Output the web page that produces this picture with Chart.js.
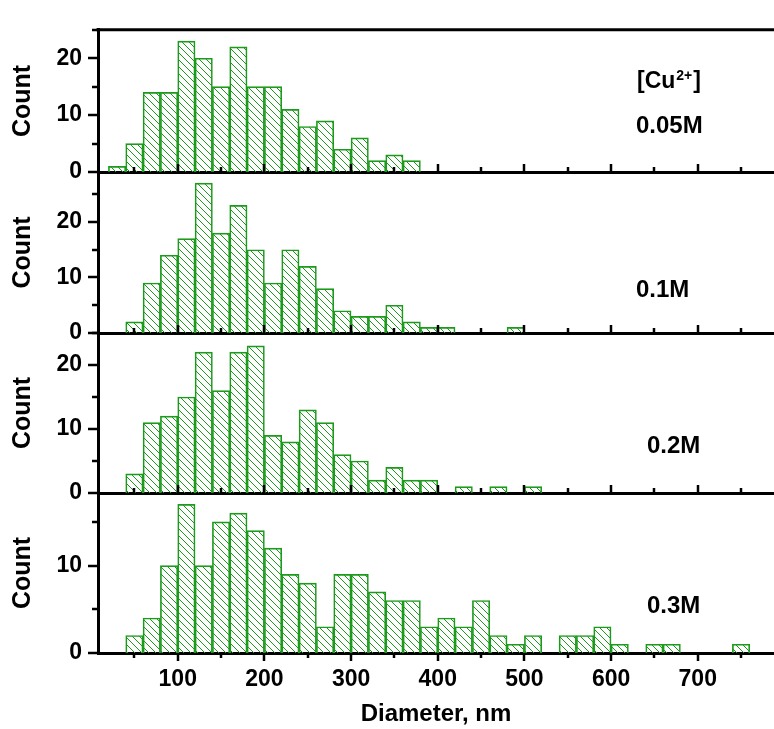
<!DOCTYPE html>
<html>
<head>
<meta charset="utf-8">
<script src="https://cdn.jsdelivr.net/npm/chart.js@4.4.1/dist/chart.umd.min.js"></script>
<style>
  html, body { margin: 0; padding: 0; background: #fff; }
  #wrap { position: relative; width: 774px; height: 729px; }
  #wrap canvas { position: absolute; left: 0; top: 0; }
</style>
</head>
<body>
<div id="wrap">
  <canvas id="p1" width="774" height="729"></canvas>
  <canvas id="p2" width="774" height="729"></canvas>
  <canvas id="p3" width="774" height="729"></canvas>
  <canvas id="p4" width="774" height="729"></canvas>
</div>
<script>
// Size distributions of particle diameter, 20 nm bins (left edge of each bin)
const binWidth = 20;
const binStarts = [20, 40, 60, 80, 100, 120, 140, 160, 180, 200, 220, 240, 260, 280, 300, 320, 340, 360, 380,
                   400, 420, 440, 460, 480, 500, 520, 540, 560, 580, 600, 620, 640, 660, 680, 700, 720, 740];

const counts005 = [1, 5, 14, 14, 23, 20, 15, 22, 15, 15, 11, 8, 9, 4, 6, 2, 3, 2, 0,
                   0, 0, 0, 0, 0, 0, 0, 0, 0, 0, 0, 0, 0, 0, 0, 0, 0, 0];
const counts01  = [0, 2, 9, 14, 17, 27, 18, 23, 15, 9, 15, 12, 8, 4, 3, 3, 5, 2, 1,
                   1, 0, 0, 0, 1, 0, 0, 0, 0, 0, 0, 0, 0, 0, 0, 0, 0, 0];
const counts02  = [0, 3, 11, 12, 15, 22, 16, 22, 23, 9, 8, 13, 11, 6, 5, 2, 4, 2, 2,
                   0, 1, 0, 1, 0, 1, 0, 0, 0, 0, 0, 0, 0, 0, 0, 0, 0, 0];
const counts03  = [0, 2, 4, 10, 17, 10, 15, 16, 14, 12, 9, 8, 3, 9, 9, 7, 6, 6, 3,
                   4, 3, 6, 2, 1, 2, 0, 2, 2, 3, 1, 0, 1, 1, 0, 0, 0, 1];

const concentrations = ['0.05M', '0.1M', '0.2M', '0.3M'];
const yMaxes = [25, 29, 25, 18.3];
const xMajorTicks = [100, 200, 300, 400, 500, 600, 700];
const xMinorTicks = [50, 150, 250, 350, 450, 550, 650, 750];
const xMin = 8, xMax = 788;

// page layout of the four stacked panels
const panelTops    = [13, 172, 333, 493];
const panelBottoms = [172, 333, 493, 653];
const labelPos = [[636, 133], [636, 297], [647, 453], [647, 613]];

const GREEN = '#1b9a1b';
const FONT = "'Liberation Sans', Arial, sans-serif";

Chart.defaults.font.family = FONT;
Chart.defaults.font.weight = 'bold';
Chart.defaults.color = '#000';

function makeHatch(ctx) {
    const tile = document.createElement('canvas');
    tile.width = tile.height = 7;
    const g = tile.getContext('2d');
    g.strokeStyle = GREEN;
    g.lineWidth = 1;
    g.beginPath();
    g.moveTo(0, 0); g.lineTo(7, 7);
    g.moveTo(-1, 6); g.lineTo(1, 8);
    g.moveTo(6, -1); g.lineTo(8, 1);
    g.stroke();
    return ctx.createPattern(tile, 'repeat');
}

// inward/outward tick marks, top frame line and the panel caption
const panelDecor = {
    id: 'panelDecor',
    afterDraw(chart, args, opts) {
        const { ctx, chartArea, scales: { x, y } } = chart;
        ctx.save();
        ctx.strokeStyle = '#000';
        ctx.lineWidth = 2.5;
        const dir = opts.outward ? 1 : -1;
        const tick = (v, len) => {
            const px = Math.round(x.getPixelForValue(v));
            ctx.beginPath();
            ctx.moveTo(px, chartArea.bottom);
            ctx.lineTo(px, chartArea.bottom + dir * len);
            ctx.stroke();
        };
        xMajorTicks.forEach(v => tick(v, 8));
        xMinorTicks.forEach(v => tick(v, 5));

        for (let v = 0; v <= y.max; v += 5) {
            const py = Math.round(y.getPixelForValue(v));
            const len = v % 10 === 0 ? 10 : 6;
            ctx.beginPath();
            ctx.moveTo(chartArea.left, py);
            ctx.lineTo(chartArea.left - len, py);
            ctx.stroke();
        }

        if (opts.topFrame) {
            ctx.lineWidth = 3;
            ctx.beginPath();
            ctx.moveTo(chartArea.left - 1.5, chartArea.top);
            ctx.lineTo(chartArea.right, chartArea.top);
            ctx.stroke();
        }

        ctx.fillStyle = '#000';
        ctx.textBaseline = 'alphabetic';
        ctx.textAlign = 'left';
        if (opts.header) {
            ctx.font = `bold 23px ${FONT}`;
            let hx = 637;
            ctx.fillText('[Cu', hx, 88);
            hx += ctx.measureText('[Cu').width + 1;
            ctx.font = `bold 14px ${FONT}`;
            ctx.fillText('2+', hx, 80);
            hx += ctx.measureText('2+').width + 1;
            ctx.font = `bold 23px ${FONT}`;
            ctx.fillText(']', hx, 88);
        }
        ctx.font = `bold 24px ${FONT}`;
        ctx.fillText(opts.text, opts.x, opts.y);
        ctx.restore();
    }
};

function makePanel(canvasId, counts, i) {
    const isLast = i === 3;
    const canvas = document.getElementById(canvasId);
    const hatch = makeHatch(canvas.getContext('2d'));
    return new Chart(canvas, {
        type: 'bar',
        data: {
            datasets: [{
                data: binStarts.map((s, k) => ({ x: s + binWidth / 2, y: counts[k] })),
                backgroundColor: hatch,
                borderColor: GREEN,
                borderWidth: 1,
                barPercentage: 1,
                categoryPercentage: 1,
            }],
        },
        options: {
            responsive: false,
            animation: false,
            devicePixelRatio: 1,
            layout: { padding: { top: panelTops[i], bottom: isLast ? 0 : 729 - panelBottoms[i], left: 0, right: 0 } },
            plugins: {
                legend: { display: false },
                tooltip: { enabled: false },
                panelDecor: {
                    outward: isLast,
                    topFrame: i === 0,
                    header: i === 0,
                    text: concentrations[i],
                    x: labelPos[i][0],
                    y: labelPos[i][1],
                },
            },
            scales: {
                x: {
                    type: 'linear',
                    min: xMin,
                    max: xMax,
                    offset: false,
                    z: 1,
                    grid: { display: false, drawTicks: false },
                    border: { display: true, color: '#000', width: 3 },
                    ticks: {
                        display: isLast,
                        stepSize: 100,
                        includeBounds: false,
                        autoSkip: false,
                        maxRotation: 0,
                        padding: 13,
                        font: { size: 23, weight: 'bold' },
                    },
                    title: {
                        display: isLast,
                        text: 'Diameter, nm',
                        font: { size: 24, weight: 'bold' },
                        padding: { bottom: 0 },
                    },
                    afterFit: s => { s.height = isLast ? 76 : 0; },
                },
                y: {
                    min: 0,
                    max: yMaxes[i],
                    z: 1,
                    grid: { display: false, drawTicks: false },
                    border: { display: true, color: '#000', width: 3 },
                    ticks: {
                        stepSize: 10,
                        includeBounds: false,
                        padding: 16,
                        font: { size: 23, weight: 'bold' },
                    },
                    title: {
                        display: true,
                        text: 'Count',
                        font: { size: 25, weight: 'bold' },
                        padding: { top: 8 },
                    },
                    afterFit: s => { s.width = 98; },
                },
            },
        },
        plugins: [panelDecor],
    });
}

makePanel('p1', counts005, 0);
makePanel('p2', counts01, 1);
makePanel('p3', counts02, 2);
makePanel('p4', counts03, 3);
</script>
</body>
</html>
